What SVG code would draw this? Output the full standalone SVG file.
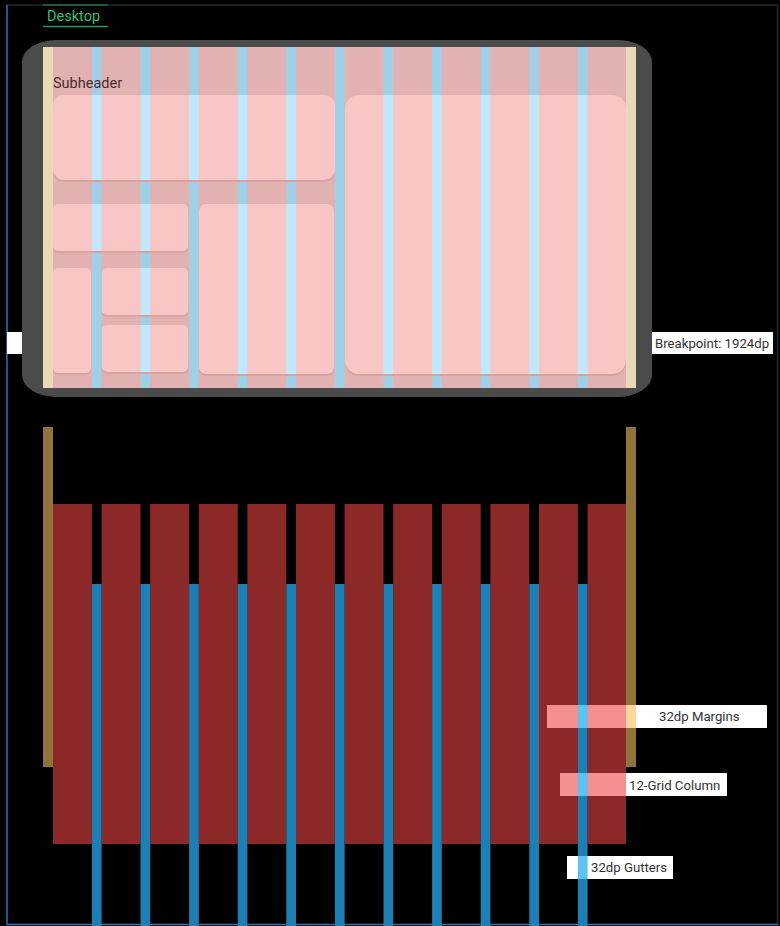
<svg xmlns="http://www.w3.org/2000/svg" width="780" height="926" viewBox="0 0 780 926">
  <style>
    .lbl { font-family: Roboto, "Liberation Sans", sans-serif; font-size: 13.2px; fill: #333333; }
    .card { fill: #f9c6c6; }
    .shadow { fill: #d9a2a2; }
    .gut { fill: #9fd0e6; }
    .gutl { fill: #c1e8fa; }
    .red { fill: #8b2828; }
    .blue { fill: #1d7fb4; }
    .gold { fill: #92743a; }
  </style>
  <defs>
    <clipPath id="cardsClip">
      <rect x="53" y="95" width="282" height="85" rx="11"/>
      <rect x="345" y="95" width="281" height="279" rx="14"/>
      <rect x="53" y="204" width="135" height="47" rx="5"/>
      <rect x="199" y="204" width="135" height="170" rx="7"/>
      <rect x="53" y="268" width="38" height="105" rx="5"/>
      <rect x="102" y="268" width="86" height="47" rx="5"/>
      <rect x="102" y="325" width="86" height="47" rx="5"/>
    </clipPath>
    <g id="gutters">
      <rect x="91.9" width="9.7" height="1000"/>
      <rect x="140.5" width="9.7" height="1000"/>
      <rect x="189.1" width="9.7" height="1000"/>
      <rect x="237.7" width="9.7" height="1000"/>
      <rect x="286.3" width="9.7" height="1000"/>
      <rect x="334.9" width="9.7" height="1000"/>
      <rect x="383.5" width="9.7" height="1000"/>
      <rect x="432.1" width="9.7" height="1000"/>
      <rect x="480.7" width="9.7" height="1000"/>
      <rect x="529.3" width="9.7" height="1000"/>
      <rect x="577.9" width="9.7" height="1000"/>
    </g>
    <clipPath id="screenClip"><rect x="53" y="47" width="573" height="341"/></clipPath>
    <clipPath id="bottomGutClip"><rect x="0" y="584" width="780" height="342"/></clipPath>
  </defs>

  <rect width="780" height="926" fill="#000000"/>

  <g id="frame">
    <line x1="7" y1="5" x2="777.5" y2="5" stroke="#1b2c37" stroke-width="1.5"/>
    <line x1="777.5" y1="5" x2="777.5" y2="924.5" stroke="#1b2c37" stroke-width="1.5"/>
    <line x1="7" y1="5" x2="7" y2="925" stroke="#2a74b8" stroke-width="1.5"/>
    <line x1="7" y1="924.5" x2="778" y2="924.5" stroke="#2a74b8" stroke-width="1.5"/>
  </g>

  <g id="desktop-tab">
    <line x1="43" y1="5" x2="108" y2="5" stroke="#1d6b4f" stroke-width="1.5"/>
    <line x1="43" y1="26.5" x2="108" y2="26.5" stroke="#1f9a6a" stroke-width="1.5"/>
    <text x="47" y="21" font-family="Roboto, 'Liberation Sans', sans-serif" font-size="14.5" fill="#27c07a">Desktop</text>
  </g>

  <g id="device">
    <rect x="22" y="40" width="630" height="357" rx="34" ry="22" fill="#4b4b4b"/>
    <rect x="43" y="47" width="593" height="341" fill="#ead9b6"/>
    <rect x="53" y="47" width="573" height="341" fill="#e2b1b1"/>
    <g clip-path="url(#screenClip)">
      <use href="#gutters" class="gut"/>
    </g>
    <text x="53" y="88" font-family="Roboto, 'Liberation Sans', sans-serif" font-size="14.5" fill="#4a2e2e">Subheader</text>
    <g id="cards">
      <rect class="shadow" x="53" y="97" width="282" height="85" rx="11"/>
      <rect class="shadow" x="345" y="97" width="281" height="279" rx="14"/>
      <rect class="shadow" x="53" y="206" width="135" height="47" rx="5"/>
      <rect class="shadow" x="199" y="206" width="135" height="170" rx="7"/>
      <rect class="shadow" x="53" y="270" width="38" height="105" rx="5"/>
      <rect class="shadow" x="102" y="270" width="86" height="47" rx="5"/>
      <rect class="shadow" x="102" y="327" width="86" height="47" rx="5"/>
      <rect class="card" x="53" y="95" width="282" height="85" rx="11"/>
      <rect class="card" x="345" y="95" width="281" height="279" rx="14"/>
      <rect class="card" x="53" y="204" width="135" height="47" rx="5"/>
      <rect class="card" x="199" y="204" width="135" height="170" rx="7"/>
      <rect class="card" x="53" y="268" width="38" height="105" rx="5"/>
      <rect class="card" x="102" y="268" width="86" height="47" rx="5"/>
      <rect class="card" x="102" y="325" width="86" height="47" rx="5"/>
    </g>
    <g clip-path="url(#cardsClip)">
      <use href="#gutters" class="gutl"/>
    </g>
  </g>

  <g id="breakpoint-tab">
    <rect x="7" y="332" width="15" height="22" fill="#ffffff"/>
  </g>
  <g id="breakpoint-label">
    <rect x="652" y="332" width="121" height="22" fill="#ffffff"/>
    <text class="lbl" x="655" y="347.5">Breakpoint: 1924dp</text>
  </g>

  <g id="grid">
    <rect class="gold" x="43" y="427" width="10" height="340"/>
    <rect class="gold" x="626" y="427" width="10" height="340"/>
    <g id="columns">
      <rect class="red" x="53" y="504" width="38.9" height="340"/>
      <rect class="red" x="101.6" y="504" width="38.9" height="340"/>
      <rect class="red" x="150.2" y="504" width="38.9" height="340"/>
      <rect class="red" x="198.8" y="504" width="38.9" height="340"/>
      <rect class="red" x="247.4" y="504" width="38.9" height="340"/>
      <rect class="red" x="296" y="504" width="38.9" height="340"/>
      <rect class="red" x="344.6" y="504" width="38.9" height="340"/>
      <rect class="red" x="393.2" y="504" width="38.9" height="340"/>
      <rect class="red" x="441.8" y="504" width="38.9" height="340"/>
      <rect class="red" x="490.4" y="504" width="38.9" height="340"/>
      <rect class="red" x="539" y="504" width="38.9" height="340"/>
      <rect class="red" x="587.6" y="504" width="38.4" height="340"/>
    </g>
    <g id="bottom-gutters" clip-path="url(#bottomGutClip)">
      <use href="#gutters" class="blue"/>
    </g>
  </g>

  <g id="label-margins">
    <rect x="547" y="705" width="79" height="23" fill="#f49090"/>
    <rect x="577.9" y="705" width="9.7" height="23" fill="#5cc4f0"/>
    <rect x="626" y="705" width="10" height="23" fill="#fdd89a"/>
    <rect x="636" y="705" width="131" height="23" fill="#ffffff"/>
    <text class="lbl" x="659" y="721">32dp Margins</text>
  </g>

  <g id="label-column">
    <rect x="560" y="773" width="66" height="23" fill="#f49090"/>
    <rect x="577.9" y="773" width="9.7" height="23" fill="#5cc4f0"/>
    <rect x="626" y="773" width="101" height="23" fill="#ffffff"/>
    <text class="lbl" x="629" y="789.5">12-Grid Column</text>
  </g>

  <g id="label-gutters">
    <rect x="567" y="856" width="106" height="23" fill="#ffffff"/>
    <rect x="577.9" y="856" width="9.7" height="23" fill="#5cc4f0"/>
    <text class="lbl" x="591" y="872">32dp Gutters</text>
  </g>
</svg>
